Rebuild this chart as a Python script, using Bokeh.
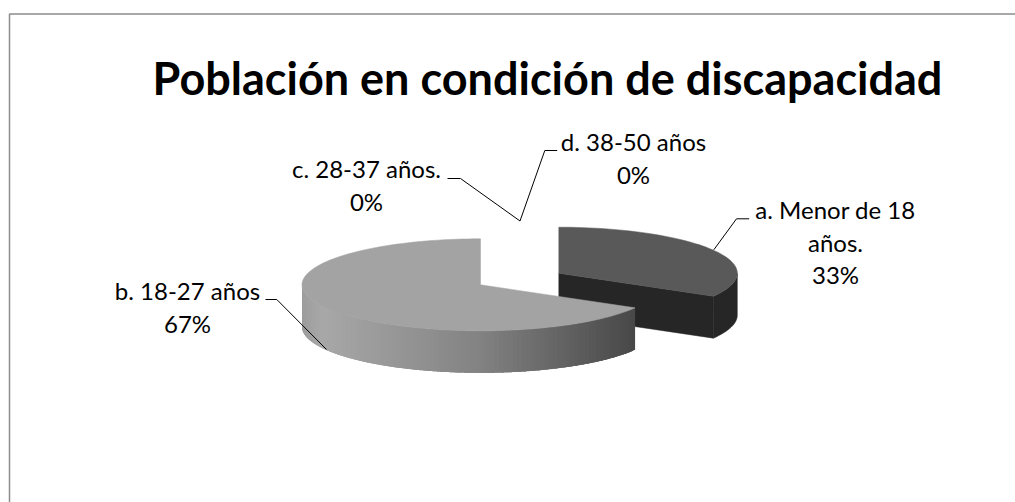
import math
from bokeh.plotting import figure
from bokeh.embed import file_html
from bokeh.resources import INLINE
from bokeh.core.properties import value

# Data
title = "Población en condición de discapacidad"
categories = ["a. Menor de 18 años.", "b. 18-27 años", "c. 28-37 años.", "d. 38-50 años"]
label_lines = [["a. Menor de 18", "años."], ["b. 18-27 años"], ["c. 28-37 años."], ["d. 38-50 años"]]
values = [1, 2, 0, 0]

W, H = 1015, 502
OX, OY = 0, 0


def X(v):
    return v - OX


def Y(v):
    return v - OY


p = figure(width=W, height=H, x_range=(0, W), y_range=(H, 0), output_backend="svg",
           toolbar_location=None, min_border=0, x_axis_location=None, y_axis_location=None)
p.grid.visible = False
p.outline_line_color = None
p.background_fill_color = "white"
p.border_fill_color = "white"

RX, RY, DEPTH = 178.5, 46, 42
total = sum(values)
fracs = [v / total for v in values]


def pt(cx, cy, deg):
    r = math.radians(deg)
    return cx + RX * math.sin(r), cy - RY * math.cos(r)


def arc(cx, cy, a0, a1, dy=0, step=2.0):
    n = max(2, int(abs(a1 - a0) / step) + 1)
    xs, ys = [], []
    for i in range(n + 1):
        x, y = pt(cx, cy, a0 + (a1 - a0) * i / n)
        xs.append(X(x))
        ys.append(Y(y + dy))
    return xs, ys


# slice a (exploded), drawn first
ax0, ay0 = 558.3, 272.7
a_end = 360 * fracs[0]
ex, ey = pt(ax0, ay0, a_end)
p.patch([X(ax0), X(ex), X(ex), X(ax0)], [Y(ay0), Y(ey), Y(ey + DEPTH), Y(ay0 + DEPTH)],
        fill_color="#262626", line_color="#262626", line_width=0.5)
sx0, sy0 = arc(ax0, ay0, 90, a_end)
sx1, sy1 = arc(ax0, ay0, a_end, 90, dy=DEPTH)
p.patch(sx0 + sx1, sy0 + sy1, fill_color="#262626", line_color="#262626", line_width=0.5)
tx, ty = arc(ax0, ay0, 0, a_end)
p.patch([X(ax0)] + tx, [Y(ay0)] + ty, fill_color="#595959", line_color="#595959", line_width=0.5)

# slice b
bx0, by0 = 480, 284.3
b_start, b_end = a_end, a_end + 360 * fracs[1]
shade_x = [301, 322, 480, 636]
shade_v = [0x9c, 0xa8, 0x82, 0x47]


def shade(x):
    for i in range(len(shade_x) - 1):
        if x <= shade_x[i + 1]:
            t = (x - shade_x[i]) / (shade_x[i + 1] - shade_x[i])
            return shade_v[i] + (shade_v[i + 1] - shade_v[i]) * t
    return shade_v[-1]


a = b_start
xs_list, ys_list, cols = [], [], []
while a < 270:
    a_mid = min(a + 1.5, 270)
    a2 = min(a + 4, 270)
    xa, ya = arc(bx0, by0, a, a2, step=1.0)
    xb, yb = arc(bx0, by0, a2, a, dy=DEPTH, step=1.0)
    xm, _ = pt(bx0, by0, (a + a_mid) / 2)
    g = int(round(shade(xm)))
    xs_list.append(xa + xb)
    ys_list.append(ya + yb)
    cols.append("#%02x%02x%02x" % (g, g, g))
    a = a_mid
p.patches(xs_list, ys_list, fill_color=cols, line_color=None)
tx, ty = arc(bx0, by0, b_start, b_end)
p.patch([X(bx0)] + tx, [Y(by0)] + ty, fill_color="#a3a3a3", line_color="#a3a3a3", line_width=0.5)

# leader lines
leaders = [
    ([713.3, 736, 748.7], [249.3, 218.3, 218.3]),
    ([265, 276.3, 326], [299, 299, 349]),
    ([447, 460, 519.5], [178, 178, 220.5]),
    ([519.5, 544.3, 556.7], [220.5, 150, 150]),
]
for lx, ly in leaders:
    p.line([X(v) for v in lx], [Y(v) for v in ly], line_color="black", line_width=1)

# labels
FONT = value("Lato")
label_pos = [(835, 209), (187, 290), (366, 168), (633, 141)]
LH = 32.5
for lines, f, (cx, cy) in zip(label_lines, fracs, label_pos):
    rows = lines + ["%d%%" % round(f * 100)]
    for i, row in enumerate(rows):
        p.text([X(cx)], [Y(cy + i * LH)], text=[row], text_font=FONT, text_font_size="24px",
               text_align="center", text_baseline="middle", text_color="black")

p.text([X(547)], [Y(77)], text=[title], text_font=FONT, text_font_size="45px",
       text_font_style="bold", text_align="center", text_baseline="middle", text_color="black")

# frame
p.line([X(1015), X(9), X(9)], [Y(13.5), Y(13.5), Y(502)], line_color="#8c8c8c", line_width=1.5)

open("out.html", "w").write(file_html(p, INLINE))
